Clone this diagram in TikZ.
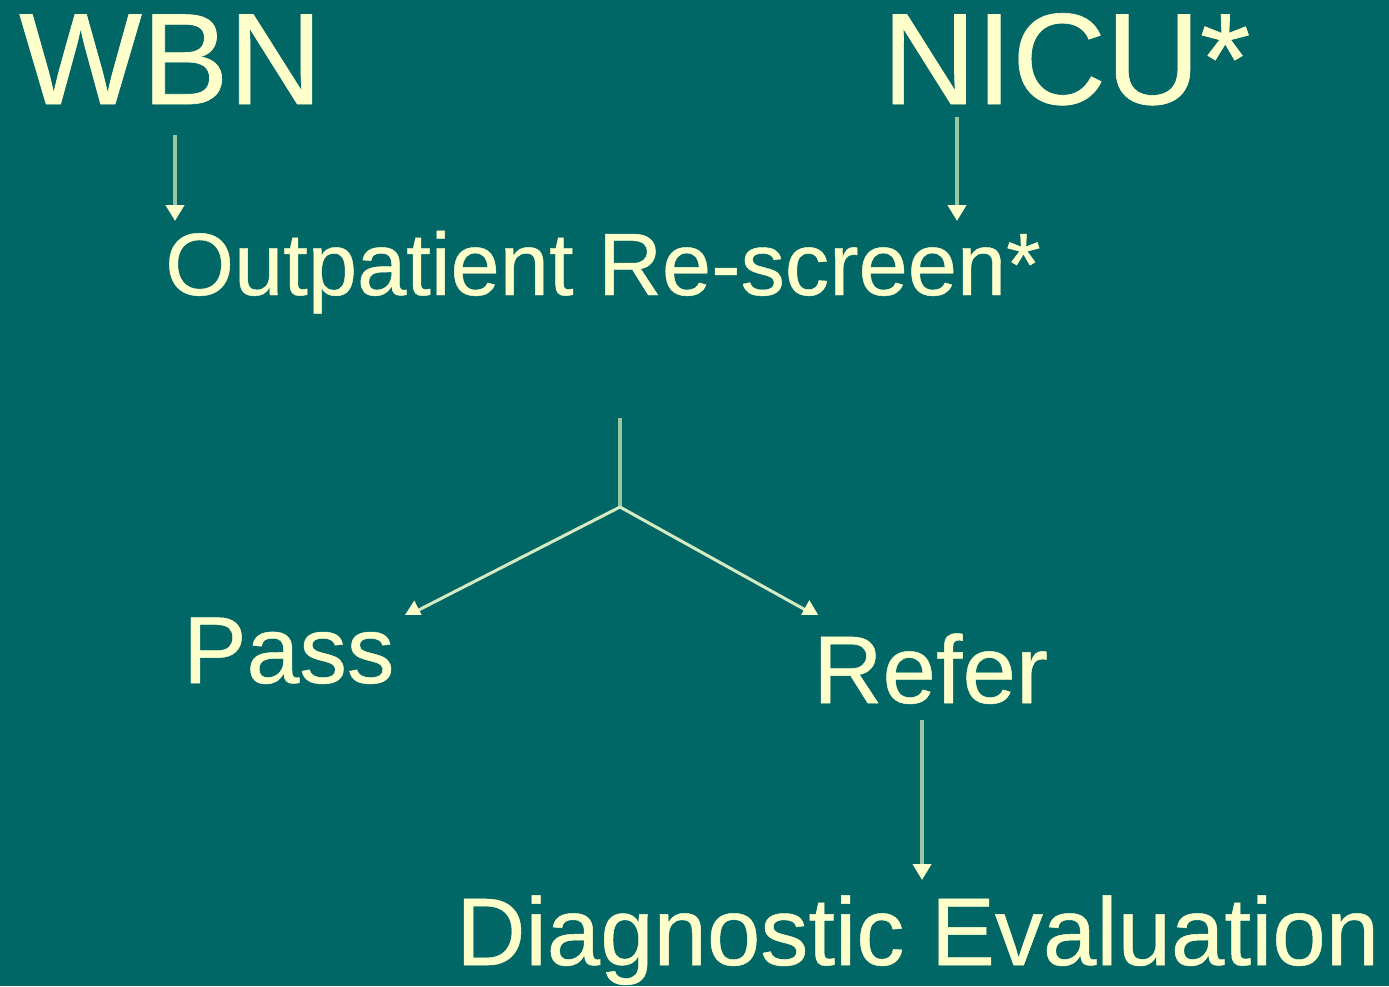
\documentclass[tikz,border=0pt]{standalone}
\usepackage{fontspec}
\setmainfont{Liberation Sans}[FakeBold=0.5]
\usetikzlibrary{arrows.meta}
\definecolor{bg}{HTML}{006666}
\definecolor{txt}{HTML}{FFFFCC}
\definecolor{ln}{HTML}{99C7A3}
\definecolor{dln}{HTML}{D6EBC2}
\tikzset{
  lbl/.style={anchor=base west, inner sep=0pt, text=txt},
  vconn/.style={draw=ln, line width=4pt, -{Triangle[width=18pt,length=16pt,color=txt]}},
  dconn/.style={draw=dln, line width=3pt, -{Triangle[width=20pt,length=18pt,color=txt]}},
  stem/.style={draw=ln, line width=4.5pt}
}
\begin{document}
\begin{tikzpicture}[x=1pt,y=-1pt]
\fill[bg] (0,0) rectangle (1389,986);
\useasboundingbox (0,0) rectangle (1389,986);
\node[lbl, font=\fontsize{130}{134}\selectfont] (wbn) at (19,104) {WBN};
\node[lbl, font=\fontsize{130}{134}\selectfont] (nicu) at (882,104) {NICU*};
\node[lbl, font=\fontsize{88.5}{92}\selectfont] (out) at (165,295) {Outpatient Re-screen*};
\node[lbl, font=\fontsize{95}{98}\selectfont] (pass) at (183,683) {Pass};
\node[lbl, font=\fontsize{96}{98}\selectfont] (refer) at (813,703) {Refer};
\node[lbl, font=\fontsize{96}{98}\selectfont] (diag) at (456,965) {Diagnostic Evaluation};
% connector ends
\coordinate (wbnS) at (175,135);
\coordinate (wbnE) at (175,221);
\coordinate (nicuS) at (957,117);
\coordinate (nicuE) at (957,221);
\coordinate (stemTop) at (620,418);
\coordinate (fork) at (620,507);
\coordinate (passE) at (403,618);
\coordinate (referE) at (820,618);
\coordinate (refS) at (922,720);
\coordinate (diagE) at (922,880);
\draw[vconn] (wbnS) -- (wbnE);
\draw[vconn] (nicuS) -- (nicuE);
\draw[stem] (stemTop) -- (fork);
\begin{scope}
\clip (0,0) rectangle (1389,614);
\draw[dconn] (fork) -- (passE);
\draw[dconn] (fork) -- (referE);
\end{scope}
\draw[vconn] (refS) -- (diagE);
\end{tikzpicture}
\end{document}
